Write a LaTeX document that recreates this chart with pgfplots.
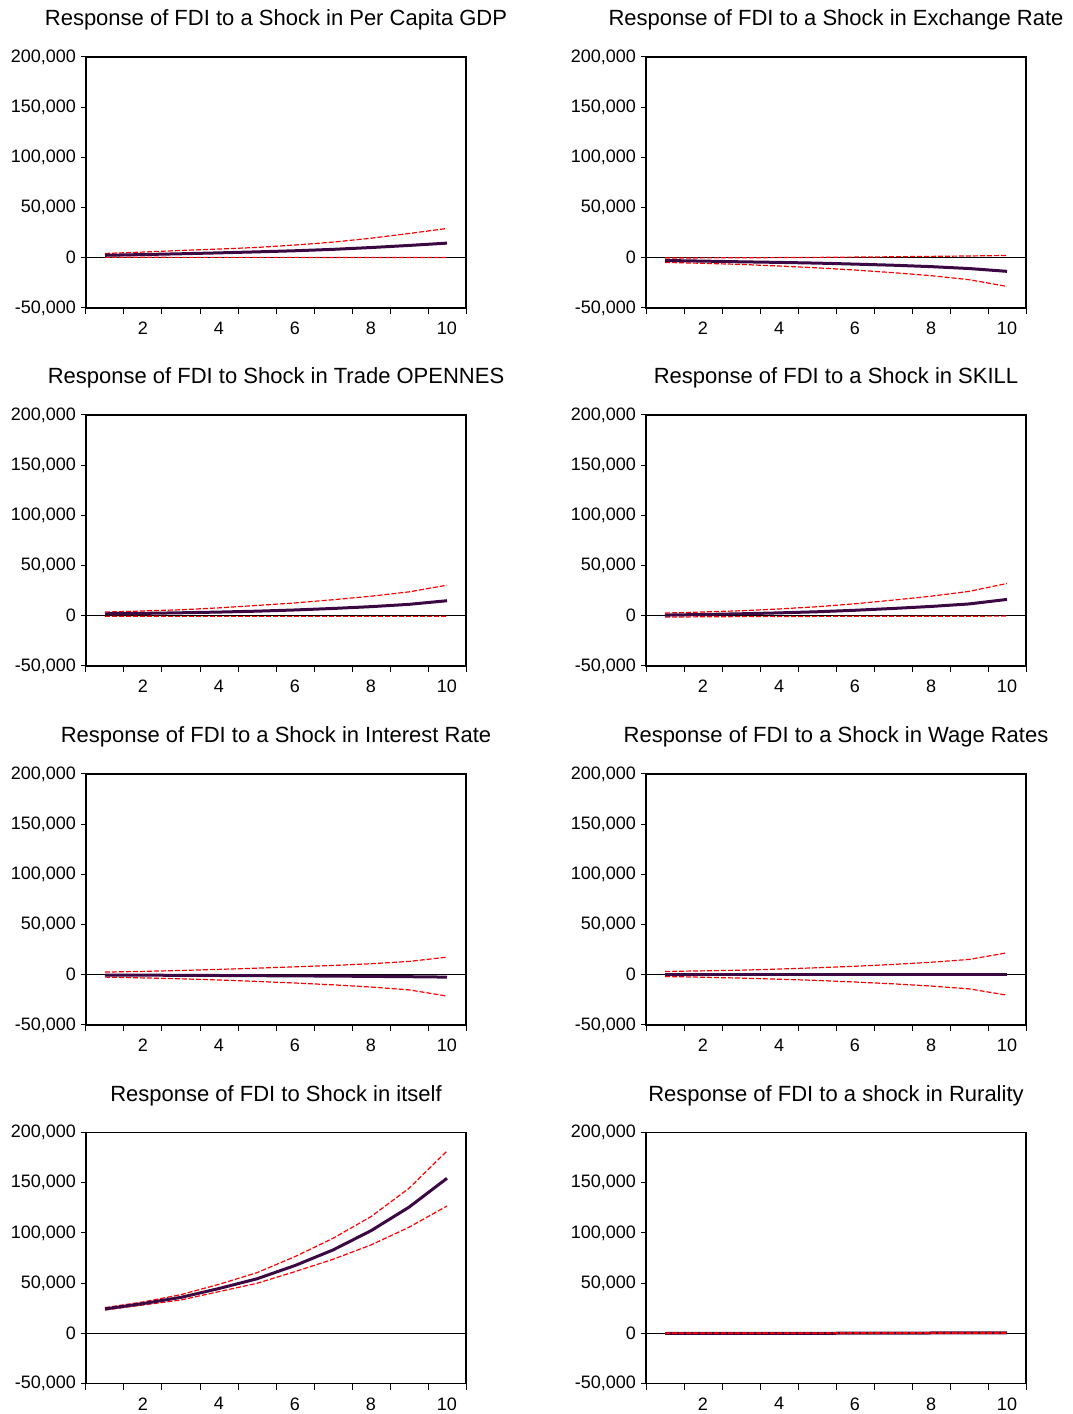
\documentclass[border=0pt]{standalone}
\usepackage{fontspec}
\setmainfont{Liberation Sans}
\usepackage{pgfplots}
\pgfplotsset{compat=1.18}
\definecolor{irfline}{RGB}{59,8,68}
\definecolor{bandred}{RGB}{255,0,0}
\pgfplotsset{
  irf/.style={
    scale only axis,
    width=190pt, height=125.5pt,
    anchor=south west,
    xmin=0.5, xmax=10.5,
    ymin=-50000, ymax=200000,
    scaled y ticks=false,
    axis line style={line width=0.6pt},
    tick style={black, line width=0.5pt},
    tick align=outside,
    xtick pos=bottom, ytick pos=left,
    xtick={2,4,6,8,10},
    xticklabels={2,4,6,8,10},
    major x tick style={draw=none},
    minor xtick={0.5,1.5,2.5,3.5,4.5,5.5,6.5,7.5,8.5,9.5,10.5},
    minor tick length=3pt,
    major tick length=2.5pt,
    ytick={-50000,0,50000,100000,150000,200000},
    yticklabels={{-50,000},{0},{50,000},{100,000},{150,000},{200,000}},
    yticklabel style={xshift=1pt},
    xticklabel style={yshift=-1pt},
    tick label style={font=\fontsize{9}{10}\selectfont},
    title style={at={(0.5,1)}, anchor=base, yshift=9.5pt, font=\fontsize{11}{13}\selectfont},
  },
  zl/.style={black, line width=0.5pt, forget plot},
  mainl/.style={irfline, line width=1.5pt, no marks},
  band/.style={bandred, line width=0.6pt, dash pattern=on 2.5pt off 1pt, no marks},
}
\begin{document}
\begin{tikzpicture}
\useasboundingbox (0,0) rectangle (536pt,707pt);
% Row 1 left
\begin{axis}[irf, at={(43pt,553pt)}, title={Response of FDI to a Shock in Per Capita GDP}]
\addplot[zl] coordinates {(0.5,0) (10.5,0)};
\addplot[band] coordinates {(1,4300) (2,5700) (3,7300) (4,8700) (5,10300) (6,12700) (7,15600) (8,19500) (9,24200) (10,29200)};
\addplot[band] coordinates {(1,600) (2,500) (3,400) (4,400) (5,400) (6,400) (7,300) (8,300) (9,300) (10,300)};
\addplot[mainl] coordinates {(1,2500) (2,3200) (3,4000) (4,4900) (5,5900) (6,7000) (7,8400) (8,10200) (9,12300) (10,14600)};
\end{axis}
% Row 1 right
\begin{axis}[irf, at={(323pt,553pt)}, title={Response of FDI to a Shock in Exchange Rate}]
\addplot[zl] coordinates {(0.5,0) (10.5,0)};
\addplot[band] coordinates {(1,-300) (2,-100) (3,0) (4,200) (5,400) (6,700) (7,1000) (8,1400) (9,1800) (10,2300)};
\addplot[band] coordinates {(1,-4600) (2,-5500) (3,-6600) (4,-8200) (5,-10000) (6,-12200) (7,-14800) (8,-17800) (9,-21800) (10,-28500)};
\addplot[mainl] coordinates {(1,-2700) (2,-3300) (3,-4000) (4,-4600) (5,-5300) (6,-6300) (7,-7400) (8,-8800) (9,-10700) (10,-13500)};
\end{axis}
% Row 2 left
\begin{axis}[irf, at={(43pt,374pt)}, title={Response of FDI to Shock in Trade OPENNES}]
\addplot[zl] coordinates {(0.5,0) (10.5,0)};
\addplot[band] coordinates {(1,3700) (2,4800) (3,6000) (4,7900) (5,10300) (6,12800) (7,16000) (8,19500) (9,23800) (10,30500)};
\addplot[band] coordinates {(1,-400) (2,-500) (3,-600) (4,-600) (5,-600) (6,-600) (7,-600) (8,-600) (9,-600) (10,-500)};
\addplot[mainl] coordinates {(1,2000) (2,2400) (3,3000) (4,3700) (5,4600) (6,5800) (7,7300) (8,9100) (9,11400) (10,15000)};
\end{axis}
% Row 2 right
\begin{axis}[irf, at={(323pt,374pt)}, title={Response of FDI to a Shock in SKILL}]
\addplot[zl] coordinates {(0.5,0) (10.5,0)};
\addplot[band] coordinates {(1,2700) (2,3800) (3,5000) (4,6800) (5,9000) (6,12000) (7,15600) (8,19500) (9,24300) (10,32200)};
\addplot[band] coordinates {(1,-1300) (2,-1000) (3,-800) (4,-700) (5,-600) (6,-500) (7,-500) (8,-400) (9,-400) (10,-300)};
\addplot[mainl] coordinates {(1,700) (2,1300) (3,2000) (4,2900) (5,4000) (6,5500) (7,7300) (8,9300) (9,11800) (10,16300)};
\end{axis}
% Row 3 left
\begin{axis}[irf, at={(43pt,194.5pt)}, title={Response of FDI to a Shock in Interest Rate}]
\addplot[zl] coordinates {(0.5,0) (10.5,0)};
\addplot[band] coordinates {(1,2700) (2,3400) (3,4300) (4,5400) (5,6600) (6,7900) (7,9300) (8,11000) (9,13300) (10,17600)};
\addplot[band] coordinates {(1,-2300) (2,-3100) (3,-4000) (4,-5200) (5,-6600) (6,-8200) (7,-10000) (8,-12200) (9,-15000) (10,-21200)};
\addplot[mainl] coordinates {(1,-300) (2,-400) (3,-500) (4,-700) (5,-900) (6,-1100) (7,-1300) (8,-1600) (9,-1900) (10,-2300)};
\end{axis}
% Row 3 right
\begin{axis}[irf, at={(323pt,194.5pt)}, title={Response of FDI to a Shock in Wage Rates}]
\addplot[zl] coordinates {(0.5,0) (10.5,0)};
\addplot[band] coordinates {(1,3300) (2,3900) (3,4600) (4,5700) (5,7000) (6,8500) (7,10300) (8,12500) (9,15300) (10,21900)};
\addplot[band] coordinates {(1,-1700) (2,-2400) (3,-3300) (4,-4400) (5,-5600) (6,-7200) (7,-9000) (8,-11200) (9,-14000) (10,-20300)};
\addplot[mainl] coordinates {(1,700) (2,700) (3,700) (4,700) (5,700) (6,700) (7,700) (8,700) (9,700) (10,700)};
\end{axis}
% Row 4 left
\begin{axis}[irf, at={(43pt,15.25pt)}, title={Response of FDI to Shock in itself}]
\addplot[zl] coordinates {(0.5,0) (10.5,0)};
\addplot[band] coordinates {(1,25600) (2,31200) (3,38500) (4,48800) (5,60400) (6,76400) (7,94600) (8,116200) (9,144400) (10,181600)};
\addplot[band] coordinates {(1,23200) (2,28200) (3,33200) (4,41500) (5,49800) (6,61400) (7,73700) (8,88000) (9,105600) (10,126800)};
\addplot[mainl] coordinates {(1,24200) (2,29600) (3,35800) (4,44600) (5,54300) (6,67500) (7,83000) (8,102200) (9,125600) (10,154400)};
\end{axis}
% Row 4 right
\begin{axis}[irf, at={(323pt,15.25pt)}, title={Response of FDI to a shock in Rurality}]
\addplot[zl] coordinates {(0.5,0) (10.5,0)};
\addplot[mainl] coordinates {(1,0) (2,0) (3,0) (4,0) (5,0) (6,100) (7,200) (8,300) (9,400) (10,500)};
\addplot[band] coordinates {(1,200) (2,200) (3,300) (4,300) (5,400) (6,500) (7,600) (8,700) (9,800) (10,900)};
\addplot[band] coordinates {(1,-200) (2,-200) (3,-200) (4,-100) (5,-100) (6,-100) (7,0) (8,0) (9,0) (10,100)};
\end{axis}
\end{tikzpicture}
\end{document}
